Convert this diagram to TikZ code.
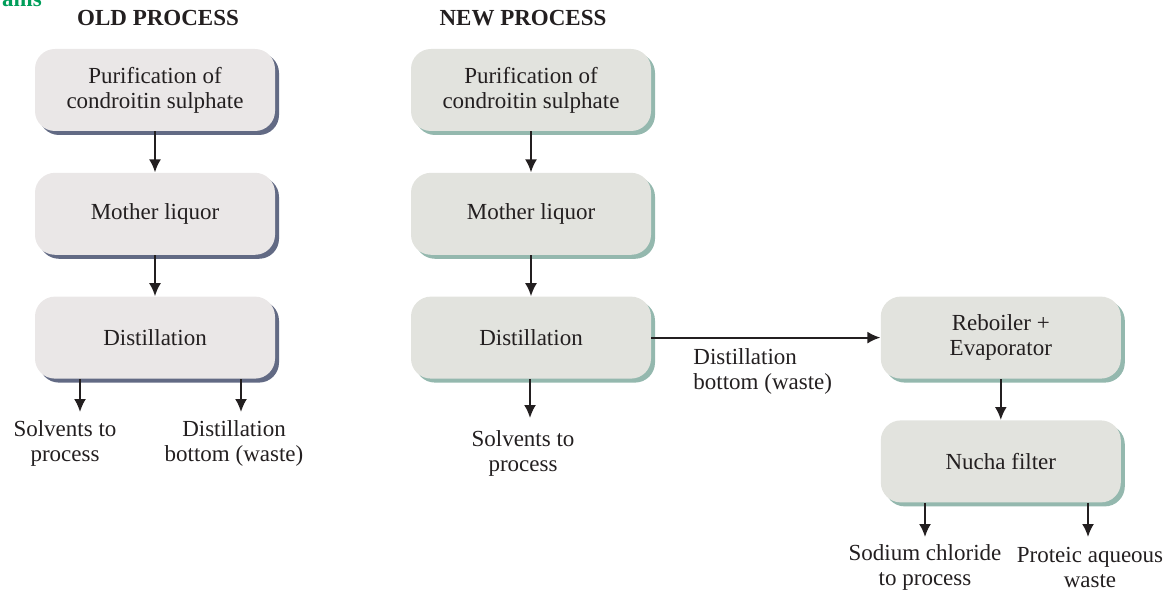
\documentclass[tikz,border=0pt]{standalone}
\usepackage{fontspec}
\setmainfont{Liberation Serif}
\usepackage{tikz}
\usetikzlibrary{
  arrows.meta,
  positioning,
  shadows
}
\definecolor{OldFill}{RGB}{234,231,231}
\definecolor{OldShade}{RGB}{98,106,132}
\definecolor{NewFill}{RGB}{226,227,222}
\definecolor{NewShade}{RGB}{148,184,174}
\definecolor{InkGray}{RGB}{35,31,32}
\definecolor{HeadGreen}{RGB}{0,158,90}
\tikzset{
  textfont/.style={font=\fontsize{11.5}{12.5}\selectfont,text=InkGray},
  oldstep/.style={textfont,fill=OldFill,rounded corners=10pt,minimum height=41pt,minimum width=120pt,align=center,drop shadow={shadow xshift=2pt,shadow yshift=-2pt,fill=OldShade,opacity=1}},
  newstep/.style={textfont,fill=NewFill,rounded corners=10pt,minimum height=41pt,minimum width=120pt,align=center,drop shadow={shadow xshift=2pt,shadow yshift=-2pt,fill=NewShade,opacity=1}},
  outlabel/.style={textfont,align=center,inner sep=0pt},
  headline/.style={font=\fontsize{11.5}{12.5}\selectfont\bfseries,text=InkGray},
  flow/.style={-{Latex[length=6.5pt,width=6pt]},line width=1pt,draw=InkGray}
}

\begin{document}
\begin{tikzpicture}[x=0.5pt,y=-0.5pt,node distance=20.5pt]
\useasboundingbox (0,0) rectangle (1172,593);
\node[headline,text=HeadGreen,anchor=base] (hdr) at (22,7) {ams};
\node[headline] (oldt) at (158,18) {OLD PROCESS};
\node[headline] (newt) at (523,18) {NEW PROCESS};
% old process
\node[oldstep] (o1) at (155,90) {Purification of\\condroitin sulphate};
\node[oldstep, below=of o1] (o2) {Mother liquor};
\node[oldstep, below=of o2] (o3) {Distillation};
\draw[flow] (o1) -- (o2);
\draw[flow] (o2) -- (o3);
\coordinate (o3l) at (80,412);
\coordinate (o3r) at (241,412);
\draw[flow] (o3.south -| o3l) -- (o3l);
\draw[flow] (o3.south -| o3r) -- (o3r);
\node[outlabel] (osolv) at (65,443) {Solvents to\\process};
\node[outlabel] (obot) at (234,443) {Distillation\\bottom (waste)};
% new process
\node[newstep] (n1) at (531,90) {Purification of\\condroitin sulphate};
\node[newstep, below=of n1] (n2) {Mother liquor};
\node[newstep, below=of n2] (n3) {Distillation};
\node[newstep, right=114.5pt of n3] (n4) {Reboiler +\\Evaporator};
\node[newstep, below=of n4] (n5) {Nucha filter};
\draw[flow] (n1) -- (n2);
\draw[flow] (n2) -- (n3);
\draw[flow] (n3) -- (n4);
\draw[flow] (n4) -- (n5);
\coordinate (n3d) at (530,418);
\draw[flow] (n3.south -| n3d) -- (n3d);
\node[outlabel] (nsolv) at (523,453) {Solvents to\\process};
\node[outlabel,align=left,anchor=west] (nbot) at (693,371) {Distillation\\bottom (waste)};
\coordinate (n5l) at (925,537);
\coordinate (n5r) at (1088,537);
\draw[flow] (n5.south -| n5l) -- (n5l);
\draw[flow] (n5.south -| n5r) -- (n5r);
\node[outlabel] (nsalt) at (925,567) {Sodium chloride\\to process};
\node[outlabel] (nprot) at (1090,567) {Proteic aqueous\\waste};
\end{tikzpicture}
\end{document}
